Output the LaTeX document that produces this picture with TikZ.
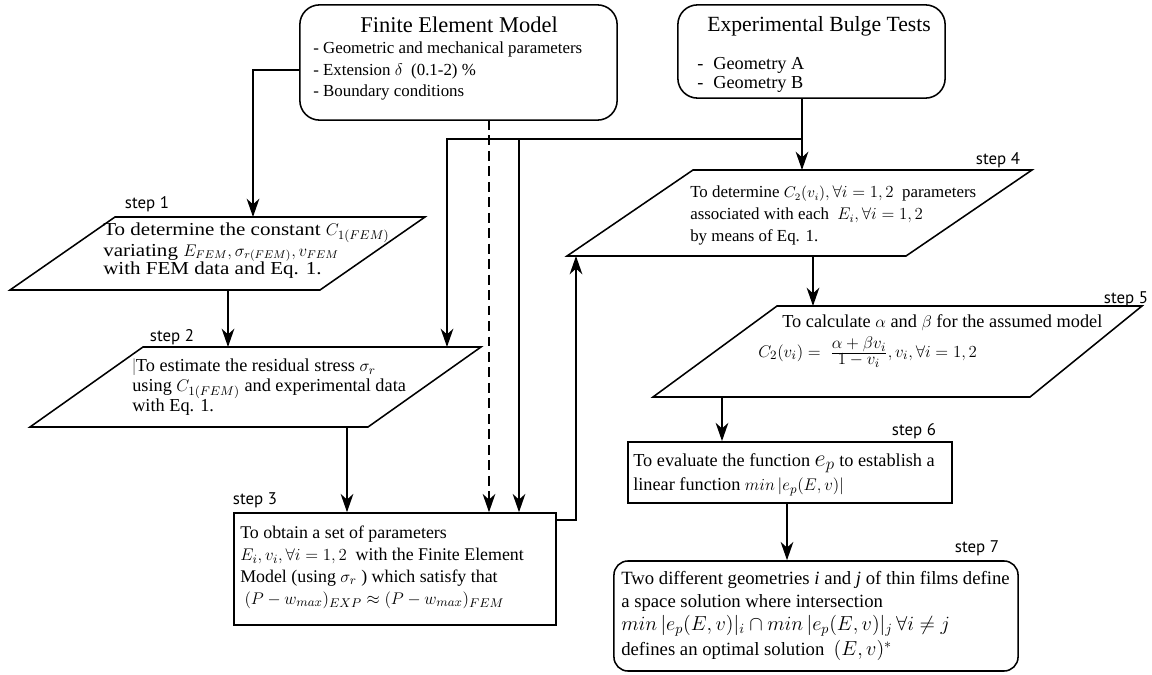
\documentclass[tikz,border=0pt]{standalone}
\usepackage{fontspec}
\setmainfont{Liberation Serif}
\newfontfamily\widefont{Liberation Serif}[FakeStretch=1.15]
\newfontfamily\labelfont{PT Sans}
\usetikzlibrary{arrows.meta,positioning}

\newcommand{\fsz}[2]{\fontsize{#1}{#2}\selectfont}

\tikzset{
  frame/.style={draw, line width=1.1pt},
  rframe/.style={frame, rounded corners=14pt},
  txt/.style={anchor=north west, align=left, inner sep=0pt},
  steplbl/.style={inner sep=0pt, font=\labelfont\fsz{12}{14}},
  link/.style={line width=1.1pt},
  arr/.style={link, -{Stealth[length=13pt,width=9pt,inset=4pt]}},
}

\begin{document}
\begin{tikzpicture}[x=0.025cm, y=-0.025cm]
\useasboundingbox (0,0) rectangle (1152,675);

% input boxes
\node[rframe, minimum width=7.93cm, minimum height=2.88cm] (fem) at (458.5,62.5) {};
\node[inner sep=0pt, font=\fsz{16}{18}] (femttl) at (459,25) {Finite Element Model};
\node[txt, font=\fsz{12}{15}] (femtxt) at (313,42) {- Geometric and mechanical parameters\\- Extension $\delta$\ \ (0.1-2) \%\\- Boundary conditions};

\node[rframe, minimum width=6.68cm, minimum height=2.33cm] (exp) at (811.5,51.5) {};
\node[inner sep=0pt, anchor=base west, font=\fsz{15.4}{18}] (expttl) at (707,32) {Experimental Bulge Tests};
\node[txt, font=\fsz{13}{13.7}] (exptxt) at (697,57) {-\hspace{0.55em}Geometry A\\-\hspace{0.55em}Geometry B};

% left branch: steps 1-3
\draw[frame] (115,217) coordinate (s1tl) -- (425,217) -- (320,290) -- (10,290) -- cycle;
\node[txt, font=\widefont\fsz{13}{13}] (s1txt) at (103,223) {To determine the constant $C_{1(FEM)}$\\variating {\fsz{11.5}{12}$E_{FEM}, \sigma_{r(FEM)}, v_{FEM}$}\\with FEM data and Eq. 1.};

\draw[frame] (143,347) coordinate (s2tl) -- (481,347) -- (368,427) -- (30,427) -- cycle;
\node[txt, font=\fsz{13}{14}] (s2txt) at (132,359) {\textcolor{black!55}{|}To estimate the residual stress $\sigma_r$\\using $C_{1(FEM)}$ and experimental data\\with Eq. 1.};

\node[frame, minimum width=8.05cm, minimum height=2.8cm] (s3) at (395,569) {};
\node[txt, font=\fsz{12.7}{15.5}] (s3txt) at (240,526) {To obtain a set of parameters\\$E_i, v_i, \forall i=1,2$\ \ with the Finite Element\\Model (using $\sigma_r$ ) which satisfy that\\\hspace*{3pt}$(P-w_{max})_{EXP}\approx(P-w_{max})_{FEM}$};

% right branch: steps 4-7
\draw[frame] (693,170) coordinate (s4tl) -- (1032,170) -- (906,256) -- (567,256) coordinate (s4bl) -- cycle;
\node[txt, font=\fsz{12}{15.5}] (s4txt) at (690,186) {To determine {\fsz{10.5}{12}$C_2(v_i)$}$, \forall i=1,2$\ \ parameters\\associated with each\ \ $E_i, \forall i=1,2$\\by means of Eq. 1.};

\draw[frame] (777,306) coordinate (s5tl) -- (1142,306) -- (1030,397) -- (653,397) -- cycle;
\node[txt, font=\fsz{13}{15}] (s5txt) at (782,314) {To calculate $\alpha$ and $\beta$ for the assumed model};
\node[anchor=west, inner sep=0pt, font=\fsz{13}{15}] (s5eq) at (758,352) {$C_2(v_i)=\ \frac{\textstyle\alpha+\beta v_i}{\textstyle 1-v_i}, v_i, \forall i=1,2$};

\node[frame, minimum width=8.1cm, minimum height=1.53cm] (s6) at (790,472.5) {};
\node[txt, font=\fsz{13}{17.5}] (s6txt) at (633,453) {To evaluate the function {\fsz{17}{17}$e_p$} to establish a\\linear function $min\,|e_p(E,v)|$};

\node[frame, rounded corners=10pt, minimum width=10.1cm, minimum height=2.75cm] (s7) at (816,616) {};
\node[txt, font=\fsz{13.3}{16.5}] (s7txt) at (621,571) {Two different geometries \textit{i} and \textit{j} of thin films define\\a space solution where intersection\\{\fsz{14}{16.5}$min\,|e_p(E,v)|_i\cap min\,|e_p(E,v)|_j\,\forall i\neq j$}\\[1pt]defines an optimal solution\ \ {\fsz{14}{16.5}$(E,v)^*$}};

% step labels
\node[steplbl] (l1) at (147,204) {step 1};
\node[steplbl] (l2) at (172,337) {step 2};
\node[steplbl] (l3) at (255,500) {step 3};
\node[steplbl] (l4) at (998,160) {step 4};
\node[steplbl] (l5) at (1126,299) {step 5};
\node[steplbl] (l6) at (914,431) {step 6};
\node[steplbl] (l7) at (977,548) {step 7};

% connectors
\coordinate (j1) at (253,70);
\coordinate (j2) at (802,139);
\coordinate (j3) at (447,139);
\coordinate (j4) at (519,139);
\coordinate (j5) at (576,520);
\coordinate (c12) at (228,290);
\coordinate (c23) at (347,427);
\coordinate (c45) at (813,256);
\coordinate (c56) at (722,397);
\coordinate (c67) at (787,503);
\coordinate (dsh) at (489,120);

\draw[arr] (fem.west |- j1) -- (j1) -- (j1 |- s1tl);
\draw[arr] (c12) -- (c12 |- s2tl);
\draw[arr] (exp.south -| j2) -- (j2 |- s4tl);
\draw[arr] (j2) -- (j3) -- (j3 |- s2tl);
\draw[arr] (j4) -- (j4 |- s3.north);
\draw[arr, dash pattern=on 7pt off 4pt] (dsh) -- (dsh |- s3.north);
\draw[arr] (c23) -- (c23 |- s3.north);
\draw[arr] (s3.east |- j5) -- (j5) -- (j5 |- s4bl);
\draw[arr] (c45) -- (c45 |- s5tl);
\draw[arr] (c56) -- (c56 |- s6.north);
\draw[arr] (c67) -- (c67 |- s7.north);
\end{tikzpicture}
\end{document}
